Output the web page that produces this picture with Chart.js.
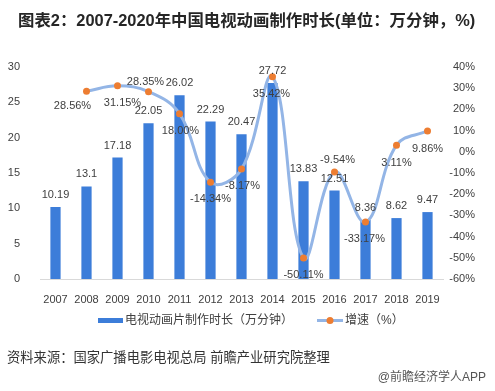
<!DOCTYPE html>
<html>
<head>
<meta charset="utf-8">
<script src="https://cdn.jsdelivr.net/npm/chart.js@4.4.1/dist/chart.umd.min.js"></script>
<style>
    html, body { margin: 0; padding: 0; background: #fff; }
    canvas { display: block; }
</style>
</head>
<body>
<canvas id="chart" width="495" height="391"></canvas>
<script>
// Data
const years = ['2007', '2008', '2009', '2010', '2011', '2012', '2013', '2014', '2015', '2016', '2017', '2018', '2019'];
const durations = [10.19, 13.1, 17.18, 22.05, 26.02, 22.29, 20.47, 27.72, 13.83, 12.51, 8.36, 8.62, 9.47];
const growth = [null, 28.56, 31.15, 28.35, 18.00, -14.34, -8.17, 35.42, -50.11, -9.54, -33.17, 3.11, 9.86];
const leftTicks = [0, 5, 10, 15, 20, 25, 30];
const rightTicks = [-60, -50, -40, -30, -20, -10, 0, 10, 20, 30, 40];

const titleText = '图表2：2007-2020年中国电视动画制作时长(单位：万分钟，%)';
const barLabel = '电视动画片制作时长（万分钟）';
const lineLabel = '增速（%）';
const sourceText = '资料来源：国家广播电影电视总局 前瞻产业研究院整理';
const creditText = '@前瞻经济学人APP';

// Colours
const barColor = '#3c7dd9';
const lineColor = '#93b5e6';
const pointColor = '#ed7d31';
const textColor = '#404040';

const numFont = '"Liberation Sans", Arial, sans-serif';
const cjkFont = '"Liberation Sans", "Noto Sans CJK SC", sans-serif';

// growth label placement relative to each point (dx, dy)
const growthLabelOffsets = [
    null, [-14, 15], [5, 17], [-3, -10], [1, 17], [0, 17], [1, 17],
    [-1, 17], [0, 17], [3, -12], [-1, 17], [0, 18], [0, 18]
];

const extrasPlugin = {
    id: 'extras',
    afterDatasetsDraw(chart) {
        const ctx = chart.ctx;
        ctx.save();
        ctx.font = '11px ' + numFont;
        ctx.fillStyle = textColor;
        ctx.textAlign = 'center';
        ctx.textBaseline = 'middle';

        // bar value labels
        const barMeta = chart.getDatasetMeta(0);
        barMeta.data.forEach((bar, i) => {
            ctx.fillText(String(durations[i]), bar.x, bar.y - 12);
        });

        // growth labels
        const lineMeta = chart.getDatasetMeta(1);
        lineMeta.data.forEach((pt, i) => {
            if (growth[i] === null) return;
            const off = growthLabelOffsets[i];
            ctx.fillText(growth[i].toFixed(2) + '%', pt.x + off[0], pt.y + off[1]);
        });
        ctx.restore();
    },
    afterDraw(chart) {
        const ctx = chart.ctx;
        ctx.save();

        // title
        ctx.fillStyle = '#262626';
        ctx.font = 'bold 16.4px ' + cjkFont;
        ctx.textAlign = 'left';
        ctx.textBaseline = 'middle';
        ctx.fillText(titleText, 18, 21);

        // legend
        const ly = 320.5;
        ctx.fillStyle = barColor;
        ctx.fillRect(98, ly - 2.5, 25, 5);
        ctx.fillStyle = textColor;
        ctx.font = '12px ' + cjkFont;
        ctx.fillText(barLabel, 125, ly);

        ctx.strokeStyle = lineColor;
        ctx.lineWidth = 3;
        ctx.beginPath();
        ctx.moveTo(317, ly);
        ctx.lineTo(343, ly);
        ctx.stroke();
        ctx.fillStyle = pointColor;
        ctx.beginPath();
        ctx.arc(330, ly, 3.5, 0, Math.PI * 2);
        ctx.fill();
        ctx.fillStyle = textColor;
        ctx.fillText(lineLabel, 345, ly);

        // source and credit
        ctx.fillStyle = '#333';
        ctx.font = '13.3px ' + cjkFont;
        ctx.fillText(sourceText, 7, 358);
        ctx.fillStyle = '#555';
        ctx.font = '12px ' + cjkFont;
        ctx.textAlign = 'right';
        ctx.fillText(creditText, 486, 378);

        ctx.restore();
    }
};

const ctx = document.getElementById('chart').getContext('2d');
const chart = new Chart(ctx, {
    type: 'bar',
    data: {
        labels: years,
        datasets: [{
            type: 'bar',
            label: barLabel,
            data: durations,
            backgroundColor: barColor,
            yAxisID: 'y',
            barPercentage: 0.33,
            categoryPercentage: 1,
            order: 1
        }, {
            type: 'line',
            label: lineLabel,
            data: growth,
            yAxisID: 'y1',
            borderColor: lineColor,
            borderWidth: 3,
            tension: 0.4,
            pointRadius: 3.5,
            pointBackgroundColor: pointColor,
            pointBorderWidth: 0,
            spanGaps: false,
            order: 0
        }]
    },
    options: {
        responsive: false,
        animation: false,
        events: [],
        layout: {
            padding: { top: 67, bottom: 82, left: 0, right: 20 }
        },
        plugins: {
            legend: { display: false },
            tooltip: { enabled: false }
        },
        scales: {
            x: {
                grid: { display: false },
                border: { display: true, color: '#d9d9d9', width: 1 },
                ticks: {
                    color: textColor,
                    font: { size: 11, family: numFont },
                    padding: 6,
                    maxRotation: 0
                },
                afterFit(scale) { scale.height = 30; }
            },
            y: {
                position: 'left',
                min: leftTicks[0],
                max: leftTicks[leftTicks.length - 1],
                grid: { display: false },
                border: { display: false },
                ticks: {
                    stepSize: 5,
                    color: textColor,
                    font: { size: 11, family: numFont },
                    padding: 12
                },
                afterFit(scale) { scale.width = 40; }
            },
            y1: {
                position: 'right',
                min: rightTicks[0],
                max: rightTicks[rightTicks.length - 1],
                grid: { display: false },
                border: { display: false },
                ticks: {
                    stepSize: 10,
                    color: textColor,
                    font: { size: 11, family: numFont },
                    crossAlign: 'far',
                    callback: v => v + '%'
                },
                afterFit(scale) { scale.width = 32; }
            }
        }
    },
    plugins: [extrasPlugin]
});
</script>
</body>
</html>
